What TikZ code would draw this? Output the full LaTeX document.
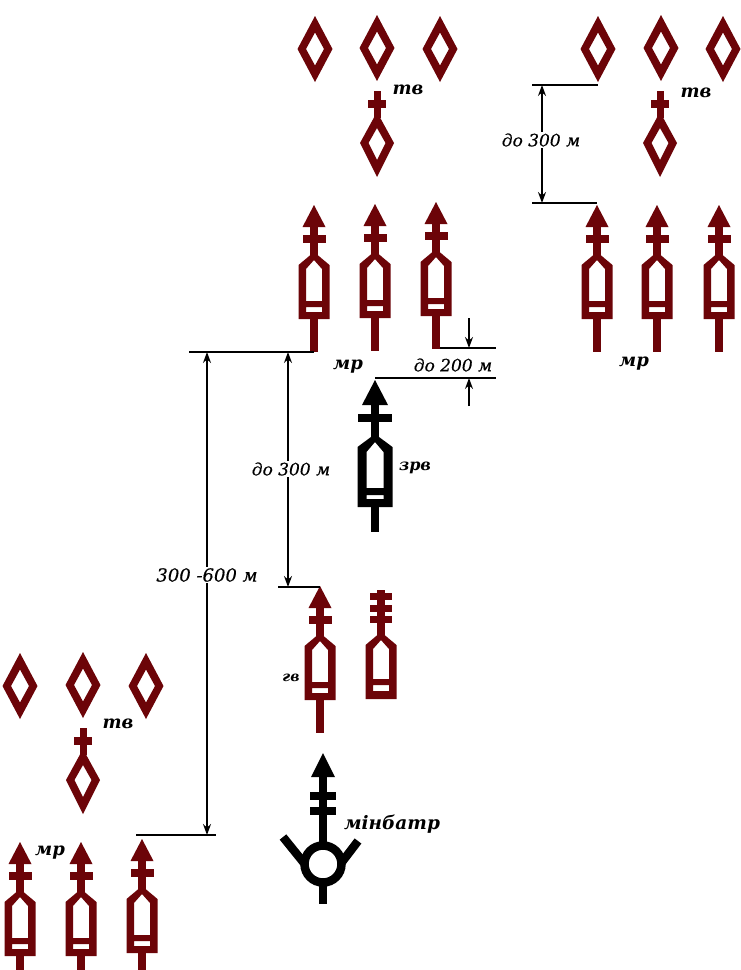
\documentclass[tikz,border=0pt]{standalone}
\usepackage{fontspec}
\setmainfont{DejaVu Serif}
\usetikzlibrary{arrows.meta}
\definecolor{maroon}{HTML}{6C0408}
\tikzset{
  dimtip/.tip={Stealth[length=11pt,width=8pt]},
  dimline/.style={line width=1.3pt,black},
  dimarrow/.style={line width=1.3pt,black,-{dimtip}},
  dimboth/.style={line width=1.3pt,black,{dimtip}-{dimtip}},
  dimlabel/.style={font=\fontsize{17}{17}\selectfont\itshape\addfontfeature{FakeBold=0.4},fill=white,inner sep=1.5pt},
  unitlabel/.style={font=\fontsize{18}{18}\selectfont\bfseries\itshape,inner sep=0pt},
  pics/vehicle/.style={code={
      \fill[#1] (0,0) -- (11.5,22) -- (-11.5,22) -- cycle;
      \fill[#1] (-3.7,20) rectangle (3.7,50);
      \fill[#1] (-11.5,30) rectangle (11.5,38);
      \fill[#1,even odd rule] (0,47) -- (15.5,60) -- (15.5,114) -- (-15.5,114) -- (-15.5,60) -- cycle
        (0,55) -- (8,64) -- (8,96) -- (-8,96) -- (-8,64) -- cycle
        (-8,102) rectangle (8,107);
      \fill[#1] (-3.7,114) rectangle (3.7,147);
  }},
  pics/bigvehicle/.style={code={
      \fill[#1] (0,0) -- (13,25) -- (-13,25) -- cycle;
      \fill[#1] (-4,23) rectangle (4,58);
      \fill[#1] (-17,34) rectangle (17,42);
      \fill[#1,even odd rule] (0,54) -- (17.5,67) -- (17.5,127) -- (-17.5,127) -- (-17.5,67) -- cycle
        (0,62) -- (8.5,72) -- (8.5,108) -- (-8.5,108) -- (-8.5,72) -- cycle
        (-8.5,115) rectangle (8.5,119);
      \fill[#1] (-4,127) rectangle (4,152);
  }},
  pics/vehiclenoarrow/.style={code={
      \fill[#1] (-3.7,5) rectangle (3.7,50);
      \fill[#1] (-11,8) rectangle (11,15);
      \fill[#1] (-11,19.5) rectangle (11,26.5);
      \fill[#1] (-11,30.5) rectangle (11,37.5);
      \fill[#1,even odd rule] (0,47) -- (15.5,60) -- (15.5,114) -- (-15.5,114) -- (-15.5,60) -- cycle
        (0,55) -- (8,64) -- (8,94) -- (-8,94) -- (-8,64) -- cycle
        (-8,100) rectangle (8,106);
  }},
  pics/diamondsym/.style={code={
      \fill[maroon,even odd rule] (0,-33) -- (17.5,0) -- (0,33) -- (-17.5,0) -- cycle
        (0,-16.5) -- (9,0) -- (0,16.5) -- (-9,0) -- cycle;
  }},
  pics/tanklead/.style={code={
      \fill[maroon] (-3.5,-52) rectangle (3.5,-25);
      \fill[maroon] (-9,-43.5) rectangle (9,-35.5);
      \fill[maroon,even odd rule] (0,-31) -- (17,0) -- (0,34) -- (-17,0) -- cycle
        (0,-15) -- (8.5,0) -- (0,17) -- (-8.5,0) -- cycle;
  }},
}
\begin{document}
\begin{tikzpicture}[x=1pt,y=-1pt]
\useasboundingbox (0,0) rectangle (741,970);
\fill[white] (0,0) rectangle (741,970);

% tank groups
\foreach \px/\py in {315/49,377/48,440/49,598/49,661/48,723/49,20/686,83/685,146/686}
  \pic at (\px,\py) {diamondsym};
\foreach \px/\py in {377/143,660/143,83/780}
  \pic at (\px,\py) {tanklead};

% vehicles
\foreach \px/\py in {314/205,375/204,436/202,597/205,657/205,719/205,20/842,81/842,142/839,320/586}
  \pic at (\px,\py) {vehicle=maroon};
\pic at (381,585) {vehiclenoarrow=maroon};
\pic at (375,380) {bigvehicle=black};

% mortar battery
\fill (323,753) -- (335,777) -- (311,777) -- cycle;
\fill (319,775) rectangle (327,848);
\fill (310,792) rectangle (336,800);
\fill (310,807) rectangle (336,815);
\draw[line width=8.5pt] (323,864) circle (18.5);
\fill (319,882) rectangle (327,904);
\draw[line width=8.5pt] (283,837) -- (304,863);
\draw[line width=8.5pt] (358,841) -- (342,862);

% dimension coordinates
\coordinate (a1) at (189,352); \coordinate (a2) at (314,352);
\coordinate (b1) at (136,835); \coordinate (b2) at (216,835);
\coordinate (c1) at (278,587); \coordinate (c2) at (320,587);
\coordinate (d1) at (440,348); \coordinate (d2) at (496,348);
\coordinate (e1) at (375,378); \coordinate (e2) at (496,378);
\coordinate (f1) at (532,85);  \coordinate (f2) at (598,85);
\coordinate (g1) at (532,203); \coordinate (g2) at (597,203);
\coordinate (vA) at (207,352); \coordinate (vB) at (207,835);
\coordinate (vC) at (288,352); \coordinate (vD) at (288,587);
\coordinate (vE) at (542,85);  \coordinate (vF) at (542,203);
\coordinate (tA) at (469,318); \coordinate (tB) at (469,348);
\coordinate (tC) at (469,406); \coordinate (tD) at (469,378);

\foreach \s/\t in {a1/a2,b1/b2,c1/c2,d1/d2,e1/e2,f1/f2,g1/g2}
  \draw[dimline] (\s) -- (\t);
\draw[dimboth] (vA) -- (vB);
\draw[dimboth] (vC) -- (vD);
\draw[dimboth] (vE) -- (vF);
\draw[dimarrow] (tA) -- (tB);
\draw[dimarrow] (tC) -- (tD);

% labels
\node[dimlabel,font=\fontsize{18}{18}\selectfont\itshape\addfontfeature{FakeBold=0.4}] (l1) at (207,575) {300 -600 м};
\node[dimlabel] (l2) at (291,469) {до 300 м};
\node[dimlabel] (l3) at (541,140) {до 300 м};
\node[dimlabel,fill=none] (l4) at (453,365) {до 200 м};
\node[unitlabel] (u1) at (408,90) {тв};
\node[unitlabel] (u2) at (696,93) {тв};
\node[unitlabel] (u3) at (118,724) {тв};
\node[unitlabel] (u4) at (348,367) {мр};
\node[unitlabel] (u5) at (634,364) {мр};
\node[unitlabel] (u6) at (50,853) {мр};
\node[unitlabel,font=\fontsize{14}{14}\selectfont\bfseries\itshape] (u7) at (291,678) {гв};
\node[unitlabel,font=\fontsize{16}{16}\selectfont\bfseries\itshape] (u8) at (415,468) {зрв};
\node[unitlabel,font=\fontsize{18.5}{18.5}\selectfont\bfseries\itshape] (u9) at (392,824) {мінбатр};
\end{tikzpicture}
\end{document}
